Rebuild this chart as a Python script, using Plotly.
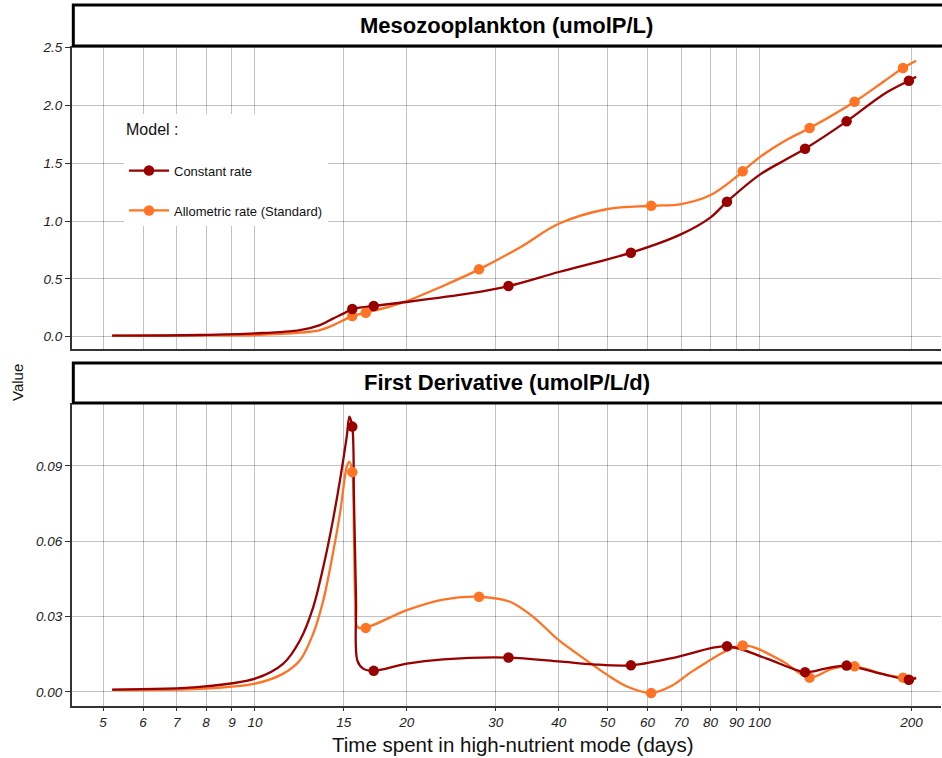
import plotly.graph_objects as go

# ---------------- data ----------------
# Mesozooplankton concentration (umolP/L), curve points
meso_const_x = [5.21, 7.78, 10, 12.28, 13.45, 14.3, 15.0, 15.59, 17.19, 19.4, 26.6, 31.8, 40, 55.6, 70, 80, 86.2, 100, 113, 123.1, 148.8, 176.6, 197.7, 204.4]
meso_const_y = [0.009, 0.015, 0.029, 0.058, 0.101, 0.159, 0.202, 0.240, 0.266, 0.294, 0.375, 0.4386, 0.56, 0.727, 0.888, 1.033, 1.168, 1.40, 1.535, 1.626, 1.863, 2.10, 2.215, 2.25]
meso_allo_x = [5.21, 7.78, 10, 12.28, 13.45, 14.3, 15.0, 15.59, 16.58, 19.4, 23.4, 27.8, 33.7, 39.9, 50, 61, 70, 80, 90, 92.6, 100, 113, 125.7, 154.3, 176.6, 192.5, 204.4]
meso_allo_y = [0.009, 0.011, 0.015, 0.035, 0.058, 0.101, 0.144, 0.179, 0.208, 0.289, 0.433, 0.583, 0.779, 0.975, 1.105, 1.133, 1.148, 1.226, 1.384, 1.431, 1.552, 1.702, 1.805, 2.033, 2.21, 2.324, 2.388]

# First derivative (umolP/L/d), curve points
deriv_const_x = [5.21, 7.78, 10, 11.38, 12.28, 13.05, 13.66, 14.19, 14.74, 15.2, 15.38, 15.59, 15.71, 15.86, 15.95, 16.39, 17.15, 20, 23.6, 31.7, 40, 46.8, 55.6, 68.5, 86.2, 103.3, 123.1, 135.0, 148.8, 173.9, 197.7, 204.4]
deriv_const_y = [0.0009, 0.002, 0.0053, 0.0113, 0.0206, 0.0339, 0.0498, 0.0657, 0.0843, 0.1016, 0.1096, 0.1056, 0.0764, 0.0365, 0.0126, 0.0093, 0.0084, 0.0113, 0.013, 0.0137, 0.0122, 0.011, 0.0106, 0.0139, 0.0182, 0.0133, 0.0079, 0.0093, 0.0105, 0.0073, 0.0049, 0.0055]
deriv_allo_x = [5.21, 7.78, 10, 11.38, 12.28, 13.05, 13.66, 14.19, 14.74, 15.2, 15.38, 15.59, 15.71, 15.8, 15.95, 16.5, 20, 23.6, 27.8, 32.0, 35.6, 40, 45.4, 50, 54.6, 61.0, 67, 74.1, 92.6, 110.2, 125.7, 139.5, 154.3, 176.6, 192.5, 204.4]
deriv_allo_y = [0.0008, 0.0012, 0.0033, 0.0073, 0.0126, 0.0233, 0.0365, 0.0525, 0.0711, 0.0896, 0.0916, 0.0875, 0.0631, 0.0365, 0.0259, 0.0255, 0.0326, 0.0368, 0.0379, 0.0359, 0.0299, 0.0206, 0.0126, 0.0067, 0.0022, -0.0004, 0.0025, 0.0086, 0.0185, 0.0126, 0.0057, 0.0093, 0.0102, 0.007, 0.0057, 0.0056]

# Marker (sampled) points
mark_const_x = [15.59, 17.19, 31.8, 55.6, 86.2, 123.1, 148.8, 197.7]
mark_const_meso = [0.240, 0.266, 0.4386, 0.727, 1.168, 1.626, 1.863, 2.215]
mark_const_deriv = [0.1056, 0.0084, 0.0137, 0.0106, 0.0182, 0.0079, 0.0105, 0.0049]
mark_allo_x = [15.59, 16.58, 27.8, 61.0, 92.6, 125.7, 154.3, 192.5]
mark_allo_meso = [0.179, 0.208, 0.583, 1.133, 1.431, 1.805, 2.033, 2.324]
mark_allo_deriv = [0.0875, 0.0255, 0.0379, -0.0004, 0.0185, 0.0057, 0.0102, 0.0057]

x_tickvals = [5, 6, 7, 8, 9, 10, 15, 20, 30, 40, 50, 60, 70, 80, 90, 100, 200]
y1_ticks = [0.0, 0.5, 1.0, 1.5, 2.0, 2.5]
y1_ticklabels = ["0.0", "0.5", "1.0", "1.5", "2.0", "2.5"]
y2_ticks = [0.0, 0.03, 0.06, 0.09]
y2_ticklabels = ["0.00", "0.03", "0.06", "0.09"]

series_names = ["Constant rate", "Allometric rate (Standard)"]
c_const = "#990000"
c_allo = "#FF7324"

# ---------------- figure ----------------
fig = go.Figure()

def add_line(x, y, color, xa, ya, smooth):
    fig.add_trace(go.Scatter(x=x, y=y, mode="lines", xaxis=xa, yaxis=ya,
                             line=dict(color=color, width=2.3, shape="spline", smoothing=smooth),
                             showlegend=False, hoverinfo="skip"))

def add_marks(x, y, color, xa, ya):
    fig.add_trace(go.Scatter(x=x, y=y, mode="markers", xaxis=xa, yaxis=ya,
                             marker=dict(color=color, size=10.5),
                             showlegend=False))

add_line(meso_allo_x, meso_allo_y, c_allo, "x", "y", 1.0)
add_line(meso_const_x, meso_const_y, c_const, "x", "y", 1.0)
add_marks(mark_allo_x, mark_allo_meso, c_allo, "x", "y")
add_marks(mark_const_x, mark_const_meso, c_const, "x", "y")

add_line(deriv_allo_x, deriv_allo_y, c_allo, "x2", "y2", 0.9)
add_line(deriv_const_x, deriv_const_y, c_const, "x2", "y2", 0.9)
add_marks(mark_allo_x, mark_allo_deriv, c_allo, "x2", "y2")
add_marks(mark_const_x, mark_const_deriv, c_const, "x2", "y2")

# legend entries
for name, col, grp in [(series_names[0], c_const, "a"), (series_names[1], c_allo, "b")]:
    fig.add_trace(go.Scatter(x=[None], y=[None], mode="lines+markers", name=name,
                             legendgroup=grp, line=dict(color=col, width=2.3),
                             marker=dict(color=col, size=10.5), xaxis="x", yaxis="y"))

# layout geometry
W, H = 942, 758
ml, mr, mt, mb = 72, 1, 5, 52
ph = H - mt - mb
pw = W - ml - mr
def py2paper(py):
    return (H - mb - py) / ph

top_dom = [py2paper(349), py2paper(46)]
bot_dom = [0.0, py2paper(403)]
top_strip = [py2paper(46), py2paper(5)]
bot_strip = [py2paper(403), py2paper(363)]

grid = "rgba(0,0,0,0.24)"
xrange_log = [0.6373, 2.3597]
common_x = dict(type="log", range=xrange_log, tickvals=x_tickvals, showgrid=True,
                gridcolor=grid, gridwidth=1, showline=True, linecolor="#333333",
                linewidth=2, zeroline=False, automargin=False)
common_y = dict(showgrid=True, gridcolor=grid, showline=True, linecolor="#333333", linewidth=2,
                ticks="outside", ticklen=5, tickcolor="#333", zeroline=False, automargin=False,
                tickfont=dict(size=13.5, color="#222"))
fig.update_layout(
    width=W, height=H,
    margin=dict(l=ml, r=mr, t=mt, b=mb, autoexpand=False),
    plot_bgcolor="white", paper_bgcolor="white",
    font=dict(family="Liberation Sans, Arial, sans-serif", color="#111"),
    xaxis=dict(**common_x, anchor="y", matches="x2", showticklabels=False, ticks=""),
    xaxis2=dict(**common_x, anchor="y2", ticks="outside", ticklen=3, tickcolor="#333",
                tickfont=dict(size=13.5, color="#222"),
                ticktext=[f"<i>{v}</i>" for v in x_tickvals]),
    yaxis=dict(**common_y, domain=top_dom, range=[-0.106, 2.515], tickvals=y1_ticks,
               ticktext=[f"<i>{t}</i>" for t in y1_ticklabels]),
    yaxis2=dict(**common_y, domain=bot_dom, range=[-0.00558, 0.115], tickvals=y2_ticks,
                ticktext=[f"<i>{t}</i>" for t in y2_ticklabels]),
    legend=dict(x=(124 - ml) / pw, y=py2paper(114), xanchor="left", yanchor="top",
                bgcolor="white", borderwidth=0,
                title=dict(text="Model :<br> ", font=dict(size=16, color="#111")),
                font=dict(size=13, color="#111"), tracegroupgap=20,
                traceorder="grouped", itemwidth=40),
    showlegend=True,
)

# facet strips
for dom, label in [(top_strip, "Mesozooplankton (umolP/L)"), (bot_strip, "First Derivative (umolP/L/d)")]:
    fig.add_shape(type="rect", xref="paper", yref="paper", x0=0.0015, x1=1.2,
                  y0=dom[0], y1=dom[1], line=dict(color="black", width=3), fillcolor="white",
                  layer="above")
    fig.add_annotation(xref="paper", yref="paper", x=0.5, y=(dom[0] + dom[1]) / 2,
                       text=f"<b>{label}</b>", showarrow=False,
                       font=dict(size=22, color="black"), xanchor="center", yanchor="middle")

fig.add_annotation(xref="paper", yref="paper", x=-(ml - 18) / pw, y=py2paper(383),
                   text="Value", textangle=-90, showarrow=False,
                   font=dict(size=15, color="#111"), xanchor="center", yanchor="middle")
fig.add_annotation(xref="paper", yref="paper", x=(513 - ml) / pw, y=py2paper(745),
                   text="Time spent in high-nutrient mode (days)", showarrow=False,
                   font=dict(size=20.5, color="#111"), xanchor="center", yanchor="middle")

fig.write_html("out.html", config={"displayModeBar": False},
               post_script="document.body.style.margin='0px';document.body.style.overflow='hidden';")
